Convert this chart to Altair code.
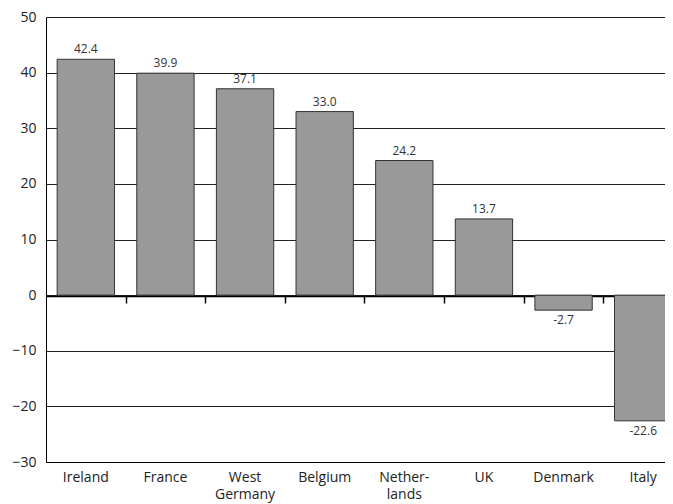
import altair as alt
import pandas as pd

countries = ["Ireland", "France", "West|Germany", "Belgium", "Nether-|lands", "UK", "Denmark", "Italy"]
values = [42.4, 39.9, 37.1, 33.0, 24.2, 13.7, -2.7, -22.6]
y_ticks = [-30, -20, -10, 0, 10, 20, 30, 40, 50]

df = pd.DataFrame({"country": countries, "value": values})
df["label"] = df["value"].map(lambda v: f"{v:.1f}")

FONT = "Open Sans"

x_scale = alt.Scale(paddingInner=0.28, paddingOuter=0.14, range=[0, 637])
y_scale = alt.Scale(domain=[-30, 50], nice=False)

base = alt.Chart(df)

bars = base.mark_bar(fill="#999999", stroke="#333333", strokeWidth=1).encode(
    x=alt.X("country:N", sort=countries, scale=x_scale, title=None,
            axis=alt.Axis(labelAngle=0, ticks=False, domain=True, domainColor="#000000",
                          labelFont=FONT, labelFontSize=14, labelColor="#222222",
                          labelPadding=8, labelLineHeight=17,
                          labelExpr="split(datum.label, '|')")),
    y=alt.Y("value:Q", scale=y_scale, title=None,
            axis=alt.Axis(values=y_ticks, ticks=False, grid=True, gridColor="#222222",
                          gridWidth=1, domain=True, domainColor="#000000",
                          labelFont=FONT, labelFontSize=14, labelColor="#222222",
                          labelPadding=10)),
)

zero_axis = base.mark_bar(opacity=0).encode(
    x=alt.X("country:N", sort=countries, scale=x_scale, title=None,
            axis=alt.Axis(orient="bottom", offset=-166, labels=False, ticks=True,
                          tickOffset=39.8, tickSize=7, tickColor="#000000", tickWidth=1.5,
                          domain=True, domainColor="#000000", domainWidth=1.5, grid=False)),
    y=alt.Y("value:Q", scale=y_scale),
)

pos_text = base.transform_filter("datum.value >= 0").mark_text(
    baseline="bottom", dy=-3, font=FONT, fontSize=12, color="#333333"
).encode(
    x=alt.X("country:N", sort=countries, scale=x_scale, axis=None),
    y=alt.Y("value:Q", scale=y_scale),
    text="label:N",
)

neg_text = base.transform_filter("datum.value < 0").mark_text(
    baseline="top", dy=5, font=FONT, fontSize=12, color="#333333"
).encode(
    x=alt.X("country:N", sort=countries, scale=x_scale, axis=None),
    y=alt.Y("value:Q", scale=y_scale),
    text="label:N",
)

chart = alt.layer(bars, zero_axis, pos_text, neg_text).resolve_axis(
    x="independent"
).properties(
    width=619, height=445,
    autosize=alt.AutoSizeParams(type="none"),
    padding={"left": 38, "top": 9, "right": 0, "bottom": 42},
).configure_view(stroke=None)

chart.save("out.html", embed_options={"renderer": "svg", "actions": False})
